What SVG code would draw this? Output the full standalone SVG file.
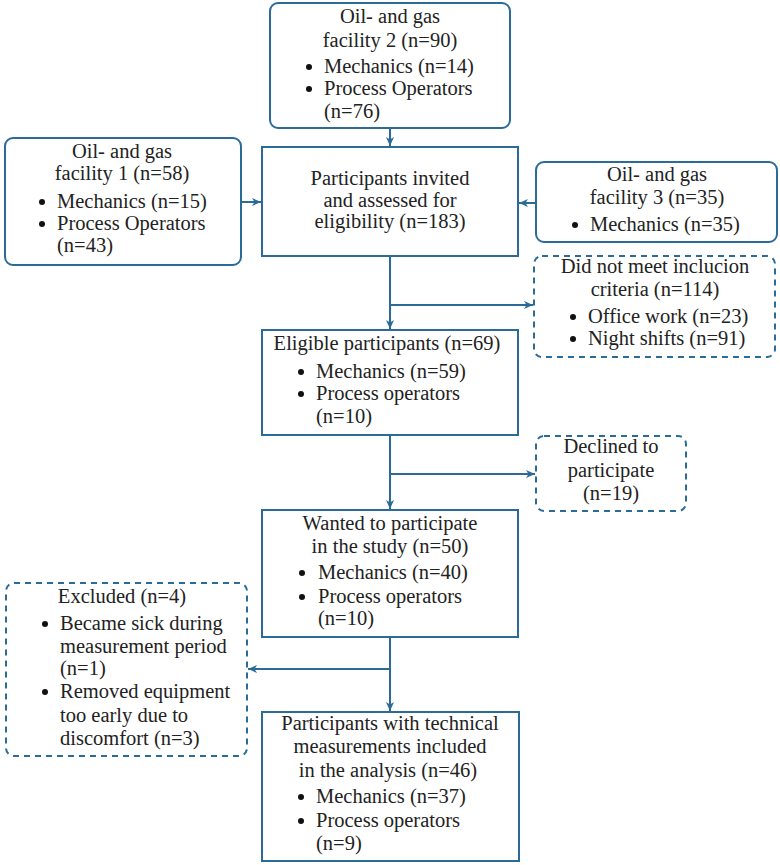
<svg xmlns="http://www.w3.org/2000/svg" width="780" height="865" viewBox="0 0 780 865">
<style>
.box{fill:#fff;stroke:#2a6b98;stroke-width:2}
.dash{fill:#fff;stroke:#2a6b98;stroke-width:2;stroke-dasharray:6 5}
text{font-family:'Liberation Serif','DejaVu Serif',serif;font-size:20.5px;fill:#222}
.c{text-anchor:middle}
.b{fill:#111}
.con{stroke:#2a6b98;stroke-width:2;fill:none;marker-end:url(#ah)}
</style>
<defs>
<marker id="ah" markerUnits="userSpaceOnUse" markerWidth="10" markerHeight="10" refX="9" refY="4" orient="auto">
<path d="M0,0 L9,4 L0,8 L2.5,4 z" fill="#2a6b98"/>
</marker>
</defs>
<rect width="780" height="865" fill="#fff"/>
<g id="connectors">
<line class="con" x1="390" y1="128" x2="390" y2="146"/>
<line class="con" x1="241" y1="202" x2="261" y2="202"/>
<line class="con" x1="536" y1="203" x2="519" y2="203"/>
<line class="con" x1="390" y1="256" x2="390" y2="329"/>
<line class="con" x1="389" y1="305" x2="533" y2="305"/>
<line class="con" x1="390" y1="435" x2="390" y2="509"/>
<line class="con" x1="389" y1="474" x2="535" y2="474"/>
<line class="con" x1="390" y1="637" x2="390" y2="711"/>
<line class="con" x1="391" y1="669" x2="248" y2="669"/>
</g>
<g id="facility2">
<rect class="box" x="270" y="3" width="240" height="125" rx="8"/>
<text class="c" x="390" y="23">Oil- and gas</text>
<text class="c" x="390" y="47">facility 2 (n=90)</text>
<circle class="b" cx="309" cy="67" r="3"/>
<text x="324" y="73">Mechanics (n=14)</text>
<circle class="b" cx="309" cy="89" r="3"/>
<text x="324" y="95">Process Operators</text>
<text x="324" y="118">(n=76)</text>
</g>
<g id="facility1">
<rect class="box" x="5" y="138" width="236" height="127" rx="8"/>
<text class="c" x="122" y="158">Oil- and gas</text>
<text class="c" x="122" y="180">facility 1 (n=58)</text>
<circle class="b" cx="42" cy="202" r="3"/>
<text x="57" y="208">Mechanics (n=15)</text>
<circle class="b" cx="42" cy="224" r="3"/>
<text x="57" y="230">Process Operators</text>
<text x="57" y="252">(n=43)</text>
</g>
<g id="invited">
<rect class="box" x="262" y="147" width="256" height="109"/>
<text class="c" x="390" y="185">Participants invited</text>
<text class="c" x="390" y="207">and assessed for</text>
<text class="c" x="390" y="228">eligibility (n=183)</text>
</g>
<g id="facility3">
<rect class="box" x="536" y="162" width="241" height="80" rx="8"/>
<text class="c" x="657" y="181">Oil- and gas</text>
<text class="c" x="657" y="204">facility 3 (n=35)</text>
<circle class="b" cx="575" cy="225" r="3"/>
<text x="590" y="231">Mechanics (n=35)</text>
</g>
<g id="notmeet">
<rect class="dash" x="534" y="256" width="241" height="101" rx="8"/>
<text class="c" x="655" y="273">Did not meet inclucion</text>
<text class="c" x="655" y="296">criteria (n=114)</text>
<circle class="b" cx="573" cy="317" r="3"/>
<text x="588" y="323">Office work (n=23)</text>
<circle class="b" cx="573" cy="339" r="3"/>
<text x="588" y="345">Night shifts (n=91)</text>
</g>
<g id="eligible">
<rect class="box" x="262" y="330" width="256" height="105"/>
<text class="c" x="387" y="350">Eligible participants (n=69)</text>
<circle class="b" cx="301" cy="372" r="3"/>
<text x="316" y="378">Mechanics (n=59)</text>
<circle class="b" cx="301" cy="394" r="3"/>
<text x="316" y="400">Process operators</text>
<text x="316" y="423">(n=10)</text>
</g>
<g id="declined">
<rect class="dash" x="536" y="436" width="150" height="75" rx="8"/>
<text class="c" x="611" y="453">Declined to</text>
<text class="c" x="611" y="477">participate</text>
<text class="c" x="611" y="500">(n=19)</text>
</g>
<g id="wanted">
<rect class="box" x="262" y="510" width="256" height="127"/>
<text class="c" x="390" y="530">Wanted to participate</text>
<text class="c" x="390" y="553">in the study (n=50)</text>
<circle class="b" cx="302" cy="573" r="3"/>
<text x="318" y="579">Mechanics (n=40)</text>
<circle class="b" cx="302" cy="597" r="3"/>
<text x="318" y="603">Process operators</text>
<text x="318" y="625">(n=10)</text>
</g>
<g id="excluded">
<rect class="dash" x="6" y="583" width="241" height="173" rx="8"/>
<text class="c" x="122" y="603">Excluded (n=4)</text>
<circle class="b" cx="45" cy="624" r="3"/>
<text x="60" y="630">Became sick during</text>
<text x="60" y="653">measurement period</text>
<text x="60" y="675">(n=1)</text>
<circle class="b" cx="45" cy="692" r="3"/>
<text x="60" y="698">Removed equipment</text>
<text x="60" y="722">too early due to</text>
<text x="60" y="745">discomfort (n=3)</text>
</g>
<g id="analysis">
<rect class="box" x="262" y="712" width="257" height="149"/>
<text class="c" x="390" y="730">Participants with technical</text>
<text class="c" x="390" y="753">measurements included</text>
<text class="c" x="388" y="777">in the analysis (n=46)</text>
<circle class="b" cx="301" cy="797" r="3"/>
<text x="316" y="803">Mechanics (n=37)</text>
<circle class="b" cx="301" cy="821" r="3"/>
<text x="316" y="827">Process operators</text>
<text x="316" y="850">(n=9)</text>
</g>
</svg>
